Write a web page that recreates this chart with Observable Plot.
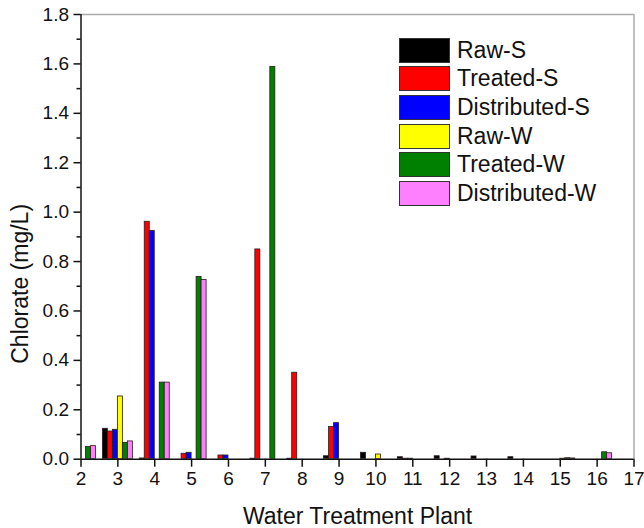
<!DOCTYPE html>
<html>
<head>
<meta charset="utf-8">
<script src="https://cdn.jsdelivr.net/npm/d3@7"></script>
<script src="https://cdn.jsdelivr.net/npm/@observablehq/plot@0.6"></script>
<style>
  body { margin: 0; background: white; }
  #wrap { position: relative; width: 644px; height: 528px; font-family: "Liberation Sans", Arial, sans-serif; }
  #legend { position: absolute; left: 399px; top: 36px; }
  .row { display: flex; align-items: center; height: 28.6px; }
  .sw { width: 49px; height: 23px; border: 1px solid #333; box-sizing: content-box; }
  .lb { margin-left: 7px; font-size: 23px; color: #111; line-height: 1; }
</style>
</head>
<body>
<div id="wrap"><div id="legend"></div></div>
<script>
const plants = [2, 3, 4, 5, 6, 7, 8, 9, 10, 11, 12, 13, 14, 15, 16];
const seriesNames = ["Raw-S", "Treated-S", "Distributed-S", "Raw-W", "Treated-W", "Distributed-W"];
const seriesColors = ["#000000", "#ff0000", "#0000ff", "#ffff00", "#008000", "#ff80ff"];
// values per plant 2..16
const rawS        = [0,     0.123, 0.003, 0,     0,     0.002, 0.002, 0.012, 0.026, 0.008, 0.012, 0.011, 0.008, 0,     0];
const treatedS    = [0,     0.112, 0.961, 0.022, 0.015, 0.849, 0.350, 0.130, 0,     0.002, 0,     0,     0,     0,     0];
const distributedS= [0,     0.119, 0.924, 0.026, 0.015, 0,     0,     0.146, 0,     0.002, 0.002, 0,     0,     0,     0];
const rawW        = [0,     0.254, 0,     0,     0,     0,     0,     0,     0.019, 0,     0,     0,     0,     0.002, 0];
const treatedW    = [0.049, 0.066, 0.310, 0.738, 0,     1.588, 0,     0,     0,     0,     0,     0,     0,     0.004, 0.028];
const distributedW= [0.053, 0.072, 0.310, 0.725, 0,     0,     0,     0,     0,     0,     0,     0,     0,     0.003, 0.024];
const xTicks = [2, 3, 4, 5, 6, 7, 8, 9, 10, 11, 12, 13, 14, 15, 16, 17];
const yMajor = [0, 0.2, 0.4, 0.6, 0.8, 1.0, 1.2, 1.4, 1.6, 1.8];
const yMinor = [0.1, 0.3, 0.5, 0.7, 0.9, 1.1, 1.3, 1.5, 1.7];
const xDomain = [2, 17];
const yDomain = [0, 1.8];

const allValues = [rawS, treatedS, distributedS, rawW, treatedW, distributedW];
const barW = 0.1356;
const data = seriesNames.flatMap((s, i) =>
  allValues[i].map((v, j) => ({plant: plants[j], series: s, i, value: v}))
).filter(d => d.value > 0);

const chart = Plot.plot({
  width: 644,
  height: 528,
  marginLeft: 80.5,
  marginRight: 10.5,
  marginTop: 14,
  marginBottom: 69.3,
  style: {fontFamily: "Liberation Sans, Arial, sans-serif", background: "white", color: "#111"},
  x: {domain: xDomain},
  y: {domain: yDomain},
  color: {domain: seriesNames, range: seriesColors},
  marks: [
    Plot.rect(data, {
      x1: d => d.plant + (d.i - 3) * barW,
      x2: d => d.plant + (d.i - 2) * barW,
      y1: 0, y2: "value",
      fill: "series", stroke: "#2a1a1a", strokeWidth: 0.8, clip: true
    }),
    Plot.ruleY([yDomain[1]], {stroke: "#aaa", strokeWidth: 1.5}),
    Plot.ruleX([xDomain[1]], {stroke: "#aaa", strokeWidth: 1.5}),
    Plot.ruleY([yDomain[0]], {stroke: "#111", strokeWidth: 1.5}),
    Plot.ruleX([xDomain[0]], {stroke: "#111", strokeWidth: 1.5}),
    Plot.axisY({ticks: yMajor, tickSize: 7, tickPadding: 5, tickFormat: d3.format(".1f"), fontSize: 19, label: null, strokeWidth: 1.5}),
    Plot.axisY({ticks: yMinor, tickSize: 4, tickFormat: () => "", label: null, strokeWidth: 1.5}),
    Plot.axisX({ticks: xTicks, tickSize: 8, tickPadding: 4, tickFormat: d => String(d), fontSize: 19, label: null, strokeWidth: 1.5}),
    Plot.text(["Water Treatment Plant"], {frameAnchor: "bottom", dy: 57, textAnchor: "middle", lineAnchor: "middle", fontSize: 23, fill: "#111"}),
    Plot.text(["Chlorate (mg/L)"], {frameAnchor: "left", dx: -60, dy: 47, textAnchor: "middle", lineAnchor: "middle", rotate: -90, fontSize: 23, fill: "#111"})
  ]
});
document.getElementById("wrap").prepend(chart);

const legend = document.getElementById("legend");
seriesNames.forEach((s, i) => {
  const row = document.createElement("div");
  row.className = "row";
  const sw = document.createElement("div");
  sw.className = "sw";
  sw.style.background = seriesColors[i];
  const lb = document.createElement("span");
  lb.className = "lb";
  lb.textContent = s;
  row.appendChild(sw);
  row.appendChild(lb);
  legend.appendChild(row);
});
</script>
</body>
</html>
